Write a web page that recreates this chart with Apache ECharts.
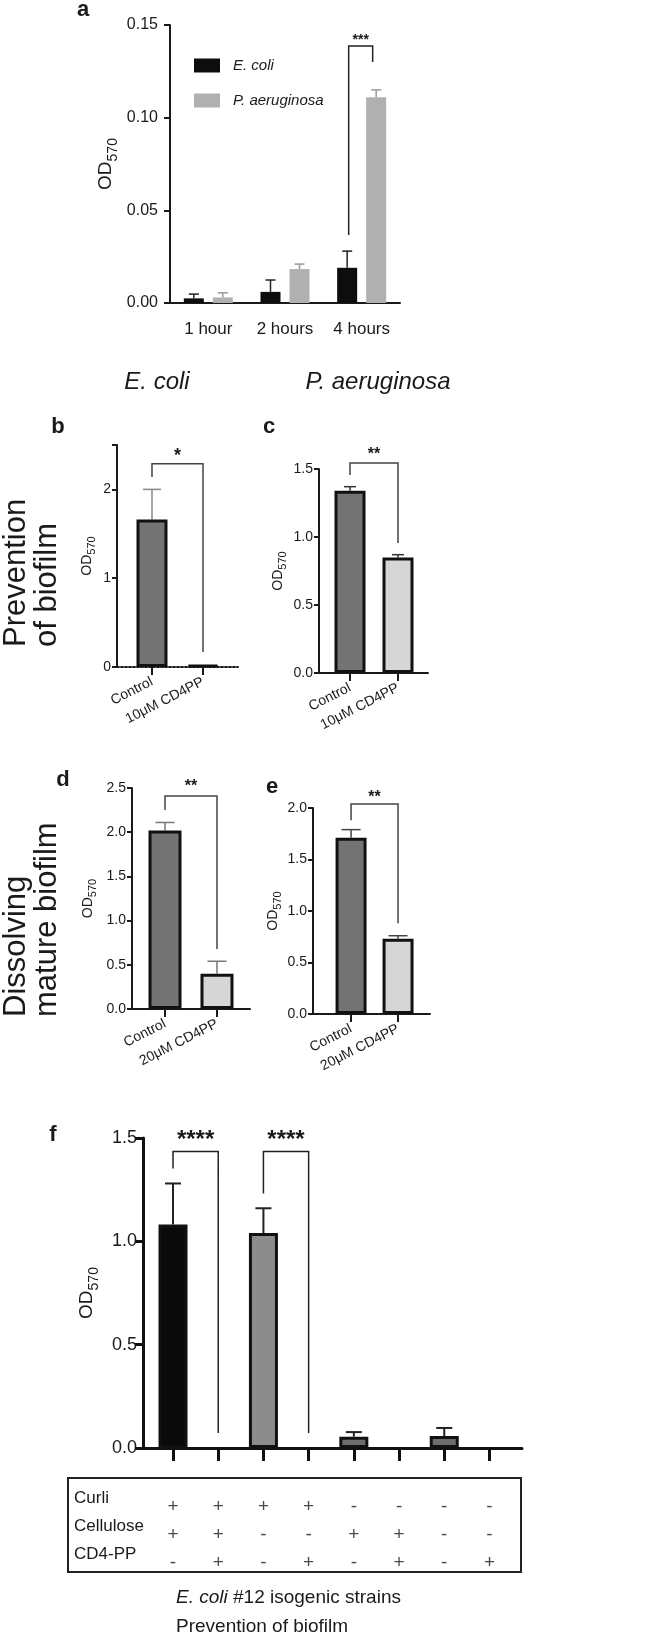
<!DOCTYPE html>
<html><head><meta charset="utf-8">
<script src="https://cdn.jsdelivr.net/npm/echarts@6/dist/echarts.min.js"></script>
<style>html,body{margin:0;padding:0;background:#fff}#c{width:645px;height:1638px}</style>
</head><body><div id="c"></div>
<script>
const FONT = "'Liberation Sans', Arial, Helvetica, sans-serif";
const INK = '#1a1a1a';

// ---------- DATA ----------
// Panel a
const timeCats = ['1 hour', '2 hours', '4 hours'];
const ecoliMean = [0.0025, 0.006, 0.019];
const ecoliErr  = [0.0048, 0.0124, 0.028];
const paMean    = [0.003, 0.0183, 0.111];
const paErr     = [0.0055, 0.021, 0.115];
const sigA      = [[2, 2, 0.1387, 0.0367, 0.130]];
const sigALabel = ['***'];
// Panel b (E. coli, prevention)
const catsPrev  = ['Control', '10μM CD4PP'];
const bMean     = [1.66, 0.02];
const bErr      = [2.0, null];
const sigB      = [[0, 1, 2.29, 2.14, 0.17]];
const sigBLabel = ['*'];
// Panel c (P. aeruginosa, prevention)
const cMean     = [1.34, 0.85];
const cErr      = [1.37, 0.87];
const sigC      = [[0, 1, 1.544, 1.456, 0.956]];
const sigCLabel = ['**'];
// Panel d (E. coli, dissolving)
const catsDiss  = ['Control', '20μM CD4PP'];
const dMean     = [2.02, 0.40];
const dErr      = [2.11, 0.54];
const sigD      = [[0, 1, 2.41, 2.25, 0.68]];
const sigDLabel = ['**'];
// Panel e (P. aeruginosa, dissolving)
const eMean     = [1.71, 0.73];
const eErr      = [1.79, 0.76];
const sigE      = [[0, 1, 2.04, 1.88, 0.88]];
const sigELabel = ['**'];
// Panel f
const fMean     = [1.082, 0, 1.04, 0, 0.055, 0, 0.058, 0];
const fErr      = [1.28, null, 1.16, null, 0.077, null, 0.097, null];
const sigF      = [[0, 1, 1.435, 1.353, 0.072], [2, 3, 1.435, 1.232, 0.072]];
const sigFLabel = ['****', '****'];
const rowNames  = ['Curli', 'Cellulose', 'CD4-PP'];
const curli     = ['+', '+', '+', '+', '-', '-', '-', '-'];
const cellulose = ['+', '+', '-', '-', '+', '+', '-', '-'];
const cd4pp     = ['-', '+', '-', '+', '-', '+', '-', '+'];

// ---------- STYLE ----------
const pairColors = ['#737373', '#d6d6d6'];
const fColors = ['#0a0a0a', '#ffffff', '#8c8c8c', '#ffffff', '#6e6e6e', '#ffffff', '#6e6e6e', '#ffffff'];

function odName(gap, big, small) {
  return {
    name: '{o|OD}{s|570}', nameLocation: 'middle', nameRotate: 90, nameGap: gap,
    nameTextStyle: { rich: {
      o: { fontSize: big, lineHeight: Math.round(big * 1.45), fontFamily: FONT, color: INK },
      s: { fontSize: small, lineHeight: small, verticalAlign: 'bottom', fontFamily: FONT, color: INK }
    } }
  };
}

function errSeries(gi, pts, o) {
  return {
    type: 'custom', xAxisIndex: gi, yAxisIndex: gi, clip: false, z: 1,
    data: pts,
    renderItem(params, api) {
      const p0 = api.coord([api.value(0), api.value(1)]);
      const p1 = api.coord([api.value(0), api.value(2)]);
      const cx = p0[0] + (o.off || 0);
      const st = { stroke: o.color, lineWidth: o.lw, fill: null };
      return { type: 'group', children: [
        { type: 'line', shape: { x1: cx, y1: p0[1], x2: cx, y2: p1[1] }, style: st },
        { type: 'line', shape: { x1: cx - o.cap / 2, y1: p1[1], x2: cx + o.cap / 2, y2: p1[1] }, style: st }
      ] };
    }
  };
}

function sigSeries(gi, items, labels, o) {
  return {
    type: 'custom', xAxisIndex: gi, yAxisIndex: gi, clip: false, z: 5,
    data: items,
    renderItem(params, api) {
      const x1 = api.value(0), x2 = api.value(1);
      const yt = api.value(2), yl = api.value(3), yr = api.value(4);
      const a = api.coord([x1, yt]), b = api.coord([x2, yt]);
      const ae = api.coord([x1, yl]), be = api.coord([x2, yr]);
      const dl = o.dl || 0, dr = o.dr || 0;
      const lx = a[0] + dl, rx = b[0] + dr;
      return { type: 'group', children: [
        { type: 'polyline', shape: { points: [[lx, ae[1]], [lx, a[1]], [rx, b[1]], [rx, be[1]]] },
          style: { stroke: o.color, lineWidth: o.lw, fill: null } },
        { type: 'text', x: (lx + rx) / 2, y: a[1] - o.off + 0.22 * o.fs,
          style: { text: labels[params.dataIndex], fill: INK, fontSize: o.fs, fontWeight: 'bold',
                   fontFamily: FONT, align: 'center', verticalAlign: 'middle',
                   textAlign: 'center', textVerticalAlign: 'middle' } }
      ] };
    }
  };
}

function errPts(mean, err) {
  const out = [];
  mean.forEach((v, i) => { if (err[i] != null) out.push([i, v, err[i]]); });
  return out;
}

const axisLbl = (fs) => ({ fontSize: fs, color: INK, fontFamily: FONT });

const grids = [
  { left: 170, top: 25, width: 230, height: 278 },   // a
  { left: 117, top: 445, width: 121, height: 222 },  // b
  { left: 319, top: 469, width: 109, height: 204 },  // c
  { left: 132, top: 788, width: 118, height: 221 },  // d
  { left: 313, top: 808, width: 117, height: 206 },  // e
  { left: 143, top: 1138, width: 379, height: 310 }, // f
  { left: 143, top: 1493, width: 379, height: 84 }   // f table
];

function pairX(gi, min, max, cats, dotted) {
  return {
    type: 'value', gridIndex: gi, min, max, splitLine: { show: false },
    axisLine: { show: true, onZero: false, lineStyle: { color: INK, width: 2, type: dotted ? 'dotted' : 'solid' } },
    axisTick: { show: true, customValues: [0, 1], length: 8, lineStyle: { color: INK, width: 2 } },
    axisLabel: Object.assign(axisLbl(14), { customValues: [0, 1], rotate: 27, margin: 14,
      formatter: v => cats[Math.round(v)] })
  };
}
function pairY(gi, max, interval, dec, gap, ticks, labels) {
  const ax = Object.assign({
    type: 'value', gridIndex: gi, min: 0, max, interval, splitLine: { show: false },
    axisLine: { show: true, onZero: false, lineStyle: { color: INK, width: 2 } },
    axisTick: { show: true, length: 5, lineStyle: { color: INK, width: 2 } },
    axisLabel: Object.assign(axisLbl(14), { margin: 6, formatter: v => v.toFixed(dec) })
  }, odName(gap, 14, 11));
  if (ticks) ax.axisTick.customValues = ticks;
  if (labels) ax.axisLabel.customValues = labels;
  return ax;
}
function pairBars(gi, mean, bw) {
  return {
    type: 'bar', xAxisIndex: gi, yAxisIndex: gi, barWidth: bw, z: 2,
    data: mean.map((v, i) => ({ value: [i, v], itemStyle: { color: pairColors[i], borderColor: '#111', borderWidth: 3 } }))
  };
}

const xAxes = [
  { type: 'category', gridIndex: 0, data: timeCats,
    axisLine: { lineStyle: { color: INK, width: 2 } },
    axisTick: { alignWithLabel: true, length: 9, lineStyle: { color: INK, width: 2 } },
    axisLabel: Object.assign(axisLbl(17), { margin: 18 }) },
  pairX(1, -0.686, 1.686, catsPrev, true),
  pairX(2, -0.646, 1.625, catsPrev, false),
  pairX(3, -0.635, 1.635, catsDiss, false),
  pairX(4, -0.81, 1.68, catsDiss, false),
  { type: 'value', gridIndex: 5, min: -0.664, max: 7.72, splitLine: { show: false },
    axisLine: { show: true, onZero: false, lineStyle: { color: '#111', width: 3 } },
    axisTick: { show: true, customValues: [0, 1, 2, 3, 4, 5, 6, 7], length: 13, lineStyle: { color: '#111', width: 3 } },
    axisLabel: { show: false } },
  { type: 'value', gridIndex: 6, min: -0.664, max: 7.72, show: false }
];

const yAxes = [
  Object.assign({ type: 'value', gridIndex: 0, min: 0, max: 0.15, interval: 0.05, splitLine: { show: false },
    axisLine: { show: true, onZero: false, lineStyle: { color: INK, width: 2 } },
    axisTick: { show: true, length: 6, lineStyle: { color: INK, width: 2 } },
    axisLabel: Object.assign(axisLbl(16), { margin: 12, formatter: v => v.toFixed(2) }) }, odName(50, 19, 14)),
  pairY(1, 2.5, 0.5, 0, 20, [0, 1, 2, 2.5], [0, 1, 2]),
  pairY(2, 1.5, 0.5, 1, 31),
  pairY(3, 2.5, 0.5, 1, 34),
  pairY(4, 2.0, 0.5, 1, 25),
  Object.assign({ type: 'value', gridIndex: 5, min: 0, max: 1.5, interval: 0.5, splitLine: { show: false },
    axisLine: { show: true, onZero: false, lineStyle: { color: '#111', width: 3 } },
    axisTick: { show: true, length: 8, lineStyle: { color: '#111', width: 3 } },
    axisLabel: Object.assign(axisLbl(18), { margin: 6, formatter: v => v.toFixed(1) }) }, odName(39, 19, 14)),
  { type: 'category', gridIndex: 6, data: rowNames, inverse: true,
    axisLine: { show: false }, axisTick: { show: false },
    axisLabel: Object.assign(axisLbl(17), { align: 'left', margin: 69, verticalAlign: 'bottom', lineHeight: 18 }) }
];

const tableRows = [curli, cellulose, cd4pp];
const tableData = [];
tableRows.forEach((row, r) => row.forEach((s, c) => tableData.push({ value: [c, r], sign: s })));

const series = [
  { name: 'E. coli', type: 'bar', xAxisIndex: 0, yAxisIndex: 0, data: ecoliMean, barWidth: 20, barGap: '45%',
    itemStyle: { color: '#0d0d0d' }, z: 2 },
  { name: 'P. aeruginosa', type: 'bar', xAxisIndex: 0, yAxisIndex: 0, data: paMean, barWidth: 20, barGap: '45%',
    itemStyle: { color: '#b0b0b0' }, z: 2 },
  errSeries(0, errPts(ecoliMean, ecoliErr), { off: -14.5, cap: 10, color: '#222', lw: 1.5 }),
  errSeries(0, errPts(paMean, paErr), { off: 14.5, cap: 10, color: '#999', lw: 1.5 }),
  sigSeries(0, sigA, sigALabel, { dl: -13, dr: 11, color: '#222', lw: 1.5, fs: 14, off: 9 }),

  pairBars(1, bMean, 31),
  errSeries(1, errPts(bMean, bErr), { cap: 18, color: '#888', lw: 1.5 }),
  sigSeries(1, sigB, sigBLabel, { color: '#444', lw: 1.5, fs: 18, off: 12 }),

  pairBars(2, cMean, 31),
  errSeries(2, errPts(cMean, cErr), { cap: 12, color: '#333', lw: 1.5 }),
  sigSeries(2, sigC, sigCLabel, { color: '#444', lw: 1.5, fs: 16, off: 12 }),

  pairBars(3, dMean, 33),
  errSeries(3, errPts(dMean, dErr), { cap: 19, color: '#777', lw: 1.5 }),
  sigSeries(3, sigD, sigDLabel, { color: '#444', lw: 1.5, fs: 16, off: 13 }),

  pairBars(4, eMean, 31),
  errSeries(4, errPts(eMean, eErr), { cap: 19, color: '#444', lw: 1.5 }),
  sigSeries(4, sigE, sigELabel, { color: '#444', lw: 1.5, fs: 16, off: 10 }),

  { type: 'bar', xAxisIndex: 5, yAxisIndex: 5, barWidth: 29, z: 2,
    data: fMean.map((v, i) => ({ value: [i, v], itemStyle: { color: fColors[i], borderColor: '#111', borderWidth: v > 0 ? 3 : 0 } })) },
  errSeries(5, errPts(fMean, fErr), { cap: 16, color: '#222', lw: 2 }),
  sigSeries(5, sigF, sigFLabel, { color: '#222', lw: 1.5, fs: 24, off: 16 }),

  { type: 'scatter', xAxisIndex: 6, yAxisIndex: 6, symbolSize: 1, itemStyle: { color: 'rgba(0,0,0,0)' },
    data: tableData,
    label: { show: true, position: 'inside', formatter: p => p.data.sign, fontSize: 19, color: INK, fontFamily: FONT } }
];

function txt(x, y, text, o) {
  return { type: 'text', x, y, rotation: o.rot || 0, z: 20,
    style: Object.assign({ text, fill: o.color || INK, fontSize: o.fs, fontFamily: FONT,
      fontWeight: o.bold ? 'bold' : 'normal', fontStyle: o.italic ? 'italic' : 'normal',
      align: o.align || 'center', verticalAlign: o.va || 'middle',
      textAlign: o.align || 'center', textVerticalAlign: o.va || 'middle' }, o.extra || {}) };
}

const graphic = [
  txt(83, 10, 'a', { fs: 22, bold: true }),
  txt(58, 427, 'b', { fs: 22, bold: true }),
  txt(269, 427, 'c', { fs: 22, bold: true }),
  txt(63, 780, 'd', { fs: 22, bold: true }),
  txt(272, 787, 'e', { fs: 22, bold: true }),
  txt(53, 1135, 'f', { fs: 22, bold: true }),
  txt(157, 382, 'E. coli', { fs: 24, italic: true }),
  txt(378, 382, 'P. aeruginosa', { fs: 24, italic: true }),
  txt(16, 647, 'Prevention', { fs: 31, rot: Math.PI / 2, align: 'left' }),
  txt(47, 647, 'of biofilm', { fs: 31, rot: Math.PI / 2, align: 'left' }),
  txt(16, 1017, 'Dissolving', { fs: 31, rot: Math.PI / 2, align: 'left' }),
  txt(47, 1017, 'mature biofilm', { fs: 31, rot: Math.PI / 2, align: 'left' }),
  { type: 'rect', z: 20, shape: { x: 68, y: 1478, width: 453, height: 94 },
    style: { fill: null, stroke: '#222', lineWidth: 2 } },
  txt(176, 1598, '{i|E. coli} #12 isogenic strains', { fs: 19, align: 'left',
    extra: { rich: { i: { fontStyle: 'italic', fontSize: 19, fontFamily: FONT, fill: INK } } } }),
  txt(176, 1627, 'Prevention of biofilm', { fs: 19, align: 'left' })
];

const chart = echarts.init(document.getElementById('c'), null, { renderer: 'canvas' });
chart.setOption({
  backgroundColor: '#fff',
  animation: false,
  textStyle: { fontFamily: FONT },
  grid: grids,
  xAxis: xAxes,
  yAxis: yAxes,
  legend: { data: ['E. coli', 'P. aeruginosa'], orient: 'vertical', left: 189, top: 53, itemGap: 20,
    icon: 'rect', itemWidth: 26, itemHeight: 14,
    textStyle: { fontStyle: 'italic', fontSize: 15, color: INK, fontFamily: FONT, padding: [0, 0, 0, 8] } },
  series,
  graphic
});
</script></body></html>
